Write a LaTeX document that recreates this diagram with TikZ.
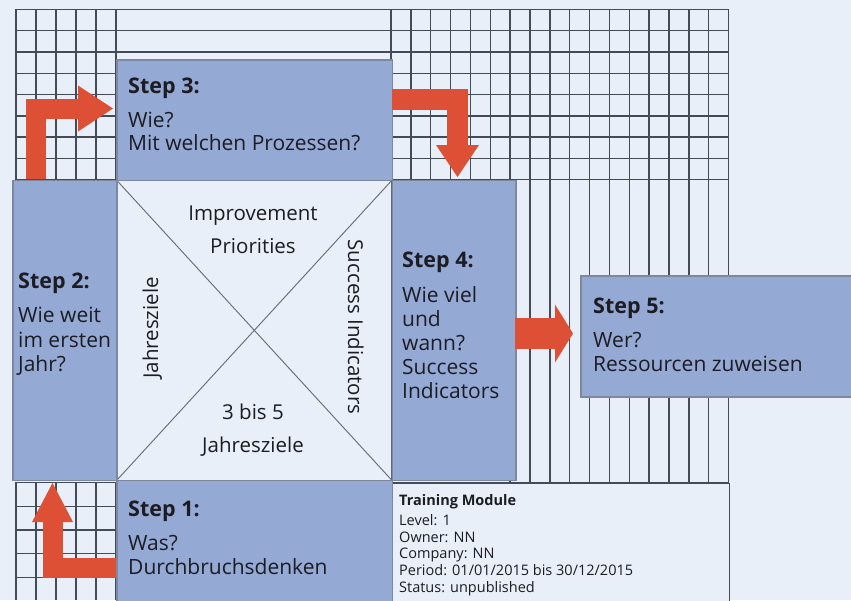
\documentclass[tikz,border=0pt]{standalone}
\usepackage{fontspec}
\setmainfont{Open Sans}
\usetikzlibrary{arrows.meta}
\definecolor{bg}{RGB}{233,239,248}
\definecolor{boxfill}{RGB}{149,169,213}
\definecolor{boxline}{RGB}{125,135,158}
\definecolor{gridc}{RGB}{68,75,86}
\definecolor{arrowred}{RGB}{222,80,54}
\definecolor{txt}{RGB}{28,28,34}
\definecolor{crossc}{RGB}{100,104,112}
\tikzset{
  gridline/.style={draw=gridc, line width=1.4pt},
  stepbox/.style={draw=boxline, fill=boxfill, line width=1.5pt, anchor=north west, inner sep=0pt},
  hdr/.style={anchor=base west, inner sep=0pt, text=txt, font=\fontsize{21.5}{24}\selectfont\bfseries},
  body/.style={anchor=base west, inner sep=0pt, text=txt, align=left},
  ctext/.style={anchor=base, inner sep=0pt, text=txt, align=center, font=\fontsize{20.5}{33}\selectfont},
  redarrow/.style={draw=arrowred, line join=miter},
}
\begin{document}
\begin{tikzpicture}[x=1pt,y=-1pt]
\useasboundingbox (0,0) rectangle (851,600);
\fill[bg] (0,0) rectangle (851,600);
% ---------- grids ----------
% top-left block
\foreach \x in {16,36,56,76,96,116} \draw[gridline] (\x,9.3) -- (\x,179.5);
\foreach \k in {0,...,8} \draw[gridline] (16,9.3+21.3*\k) -- (116,9.3+21.3*\k);
% top-middle strip
\foreach \k in {0,1,2} \draw[gridline] (116,9.3+21.3*\k) -- (391,9.3+21.3*\k);
% top-right block
\foreach \k in {0,...,17} \draw[gridline] (391+19.86*\k,9.3) -- (391+19.86*\k,179.7);
\foreach \k in {0,...,8} \draw[gridline] (391,9.3+21.3*\k) -- (728.6,9.3+21.3*\k);
% right-middle columns
\foreach \k in {6,...,17} \draw[gridline] (391+19.86*\k,179.7) -- (391+19.86*\k,483);
\draw[gridline] (391,483) -- (728.6,483);
% bottom-left block
\foreach \x in {16,36,56,76,96,116} \draw[gridline] (\x,482) -- (\x,600);
\foreach \k in {0,...,4} \draw[gridline] (16,482.5+23.7*\k) -- (116,482.5+23.7*\k);
% training module panel
\node[draw=gridc, fill=bg, line width=1.4pt, anchor=north west, inner sep=0pt,
      minimum width=337.6pt, minimum height=130pt] (tm) at (391,483) {};
% ---------- centre square ----------
\node[draw=crossc, fill=bg, line width=1.6pt, anchor=north west, inner sep=0pt,
      minimum width=275pt, minimum height=300pt] (sq) at (116,179.5) {};
\draw[crossc, line width=0.9pt] (sq.north west) -- (sq.south east);
\draw[crossc, line width=0.9pt] (sq.north east) -- (sq.south west);
% ---------- step boxes ----------
\node[stepbox, minimum width=275.5pt, minimum height=120.5pt] (s3box) at (116,59) {};
\node[stepbox, minimum width=104pt, minimum height=300pt] (s2box) at (12,179.5) {};
\node[stepbox, minimum width=123.5pt, minimum height=300pt] (s4box) at (391.5,179.5) {};
\node[stepbox, minimum width=275.5pt, minimum height=130pt] (s1box) at (116,479.5) {};
\node[stepbox, minimum width=275pt, minimum height=121pt] (s5box) at (580,275) {};
% ---------- red arrows ----------
\coordinate (a1s) at (36,179);
\coordinate (a1e) at (113,108.5);
\draw[redarrow, line width=20pt, -{Triangle[length=35pt,width=46pt,line width=0pt]}] (a1s) |- (a1e);
\coordinate (a2s) at (392,99);
\coordinate (a2e) at (457.5,177);
\draw[redarrow, line width=21pt, -{Triangle[length=32pt,width=43pt,line width=0pt]}] (a2s) -| (a2e);
\coordinate (a3s) at (515,333.5);
\coordinate (a3e) at (573,333.5);
\draw[redarrow, line width=31pt, -{Triangle[length=18pt,width=58pt,line width=0pt]}] (a3s) -- (a3e);
\coordinate (a4s) at (116,567.5);
\coordinate (a4e) at (52.5,483);
\draw[redarrow, line width=20pt, -{Triangle[length=39pt,width=41pt,line width=0pt]}] (a4s) -| (a4e);
% ---------- texts (multi-line nodes: base = last line) ----------
\node[hdr] (s3h) at (128,93) {Step 3:};
\node[body, font=\fontsize{21}{22.5}\selectfont] (s3t) at (128,150) {Wie?\\Mit welchen Prozessen?};
\node[hdr] (s2h) at (18,288) {Step 2:};
\node[body, font=\fontsize{21}{24.7}\selectfont] (s2t) at (18,371.7) {Wie weit\\im ersten\\Jahr?};
\node[hdr] (s4h) at (402,267) {Step 4:};
\node[body, font=\fontsize{21}{23.9}\selectfont] (s4t) at (402,398) {Wie viel\\und\\wann?\\Success\\Indicators};
\node[hdr] (s5h) at (593,313) {Step 5:};
\node[body, font=\fontsize{21}{24.7}\selectfont] (s5t) at (593,371.7) {Wer?\\Ressourcen zuweisen};
\node[hdr] (s1h) at (128,516) {Step 1:};
\node[body, font=\fontsize{21}{24}\selectfont] (s1t) at (128,574) {Was?\\Durchbruchsdenken};
\node[ctext] (ip) at (253,253.3) {Improvement\\Priorities};
\node[ctext] (jz) at (253,452.7) {3 bis 5\\Jahresziele};
\node[anchor=base, inner sep=0pt, text=txt, rotate=90, font=\fontsize{20.5}{24}\selectfont] (jzv) at (158,328) {Jahresziele};
\node[anchor=base, inner sep=0pt, text=txt, rotate=-90, font=\fontsize{20.5}{24}\selectfont] (siv) at (348,327) {Success Indicators};
\node[anchor=base west, inner sep=0pt, text=txt, font=\fontsize{14.5}{16.7}\selectfont\bfseries] (tmh) at (399,505.7) {Training Module};
\node[body, font=\fontsize{14.5}{16.7}\selectfont] (tmt) at (399,592.3) {Level: 1\\Owner: NN\\Company: NN\\Period: 01/01/2015 bis 30/12/2015\\Status: unpublished};
\end{tikzpicture}
\end{document}
